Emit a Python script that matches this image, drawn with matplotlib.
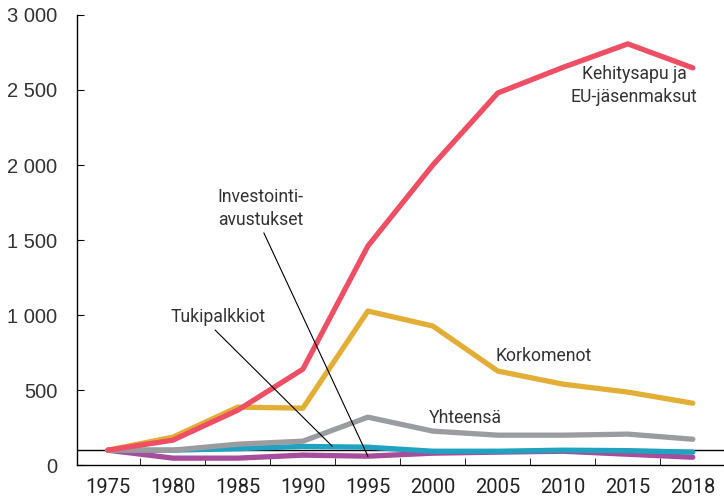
import matplotlib
matplotlib.use("Agg")
import matplotlib.pyplot as plt
import numpy as np

years = ["1975", "1980", "1985", "1990", "1995", "2000", "2005", "2010", "2015", "2018"]
kehitysapu = [100, 167, 367, 640, 1460, 2000, 2480, 2650, 2807, 2647]
korkomenot = [100, 187, 387, 380, 1027, 927, 627, 540, 487, 413]
yhteensa = [100, 100, 140, 160, 320, 227, 200, 200, 207, 173]
tukipalkkiot = [100, 100, 110, 125, 120, 93, 93, 100, 97, 87]
investointi = [100, 47, 47, 67, 60, 80, 87, 93, 73, 53]
yticks = [0, 500, 1000, 1500, 2000, 2500, 3000]
ytick_labels = ["0", "500", "1 000", "1 500", "2 000", "2 500", "3 000"]

fig = plt.figure(figsize=(7.24, 4.97), dpi=100)
ax = fig.add_axes([0.106, 0.064, 0.894, 0.906])
x = np.arange(len(years))

lw = 3.8
ax.axhline(100, color="black", lw=1.0, zorder=1)
ax.plot(x, investointi, color="#A64D9B", lw=lw, solid_capstyle="round", zorder=2)
ax.plot(x, tukipalkkiot, color="#1FA3C0", lw=lw, solid_capstyle="round", zorder=3)
ax.plot(x, yhteensa, color="#9A9C9F", lw=lw, solid_capstyle="round", zorder=4)
ax.plot(x, korkomenot, color="#E3AE36", lw=lw, solid_capstyle="round", zorder=5)
ax.plot(x, kehitysapu, color="#EF4F64", lw=lw, solid_capstyle="round", zorder=6)

ax.set_xlim(-0.48, len(years) - 0.52)
ax.set_ylim(0, 3000)
for s in ["top", "right"]:
    ax.spines[s].set_visible(False)
ax.spines["left"].set_linewidth(1.0)
ax.spines["bottom"].set_linewidth(1.0)

ax.set_yticks(yticks)
ax.set_yticklabels(ytick_labels, fontsize=14.5, family="Liberation Sans", color="#333333")
ax.tick_params(axis="y", direction="in", length=5, pad=14)
ax.set_xticks(x)
ax.set_xticklabels(years, fontsize=14.5, family=["Roboto", "DejaVu Sans"], color="#222222")
ax.tick_params(axis="x", which="major", length=0, pad=9)
ax.set_xticks(x[:-1] + 0.5, minor=True)
ax.tick_params(axis="x", which="minor", direction="in", length=5)

tf = dict(fontsize=12.7, family=["Roboto", "DejaVu Sans"], color="#333333")
ax.text(8.1, 2530, "Kehitysapu ja\nEU-jäsenmaksut", ha="center", va="center", linespacing=1.42, **tf)
ax.text(6.7, 727, "Korkomenot", ha="center", va="center", **tf)
ax.text(5.5, 313, "Yhteensä", ha="center", va="center", **tf)
ax.text(1.7, 987, "Tukipalkkiot", ha="center", va="center", **tf)
ax.text(2.35, 1710, "Investointi-\navustukset", ha="center", va="center", linespacing=1.42, **tf)
ax.plot([1.65, 3.45], [900, 127], color="black", lw=0.8, zorder=7)
ax.plot([2.4, 4.0], [1547, 60], color="black", lw=0.8, zorder=7)

fig.savefig("out.png", dpi=100)
